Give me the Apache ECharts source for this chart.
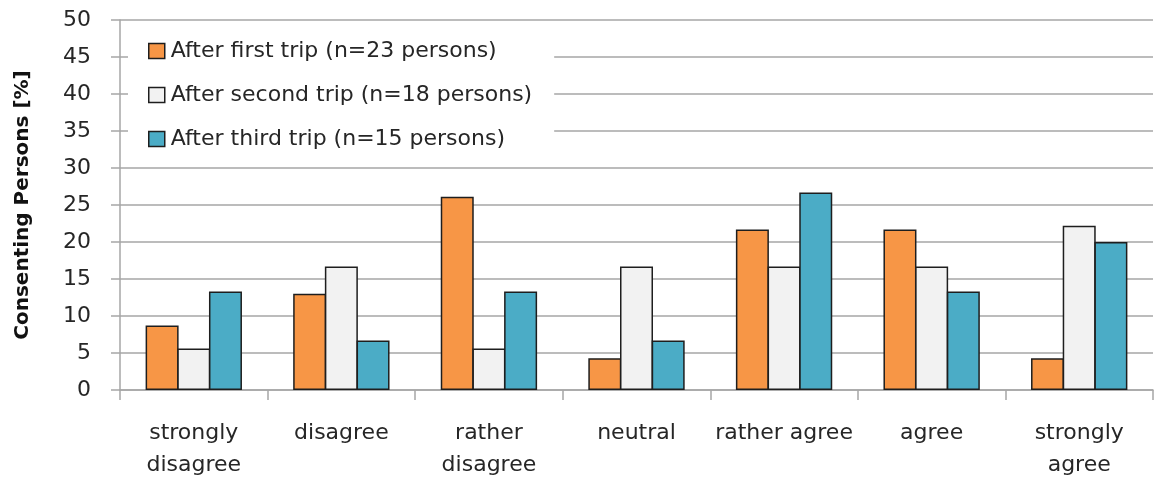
<!DOCTYPE html>
<html>
<head>
<meta charset="utf-8">
<title>Consenting Persons</title>
<script src="https://cdn.jsdelivr.net/npm/echarts@6/dist/echarts.min.js"></script>
<style>
  html, body { margin: 0; padding: 0; background: #ffffff; overflow: hidden; }
  #chart { width: 1154px; height: 481px; }
</style>
</head>
<body>
<div id="chart"></div>
<script>
// Answer categories on the x axis
const categories = [
  'strongly\ndisagree', 'disagree', 'rather\ndisagree', 'neutral',
  'rather agree', 'agree', 'strongly\nagree'
];

// Share of consenting persons in percent, per survey round
const firstTrip  = [8.7, 13.0, 26.1, 4.3, 21.7, 21.7, 4.3];
const secondTrip = [5.6, 16.7, 5.6, 16.7, 16.7, 16.7, 22.2];
const thirdTrip  = [13.3, 6.7, 13.3, 6.7, 26.7, 13.3, 20.0];

const seriesNames = [
  'After first trip (n=23 persons)',
  'After second trip (n=18 persons)',
  'After third trip (n=15 persons)'
];
const seriesColors = ['#F79646', '#F2F2F2', '#4BACC6'];

const yTicks = { min: 0, max: 50, interval: 5 };

const font = '"DejaVu Sans", "Open Sans", sans-serif';
const gridColor = '#a6a6a6';
const outline = '#1e1e1e';
const textColor = '#262626';

const chart = echarts.init(document.getElementById('chart'), null, { renderer: 'canvas' });

const dataSets = [firstTrip, secondTrip, thirdTrip];

chart.setOption({
  animation: false,
  backgroundColor: '#ffffff',
  textStyle: { fontFamily: font },
  grid: { left: 120, right: 1, top: 20, bottom: 86, containLabel: false },
  legend: {
    orient: 'vertical',
    left: 128,
    top: 25,
    padding: [15, 22, 12, 20],
    itemGap: 22,
    itemWidth: 16,
    itemHeight: 15,
    icon: 'rect',
    backgroundColor: '#ffffff',
    z: 10,
    textStyle: { fontFamily: font, fontSize: 22, color: textColor, padding: [0, 0, 0, 1] },
    itemStyle: { borderColor: outline, borderWidth: 1.5 },
    data: seriesNames
  },
  xAxis: {
    type: 'category',
    data: categories,
    axisLine: { show: true, lineStyle: { color: gridColor, width: 1.5 } },
    axisTick: { show: true, length: 10, lineStyle: { color: gridColor, width: 1.5 } },
    axisLabel: {
      fontFamily: font, fontSize: 22, color: textColor,
      margin: 27, lineHeight: 32, interval: 0
    },
    splitLine: { show: false }
  },
  yAxis: {
    type: 'value',
    min: yTicks.min,
    max: yTicks.max,
    interval: yTicks.interval,
    name: 'Consenting Persons [%]',
    nameLocation: 'middle',
    nameGap: 87,
    nameTextStyle: { fontFamily: font, fontSize: 20, fontWeight: 'bold', color: '#111111' },
    axisLine: { show: true, lineStyle: { color: gridColor, width: 1.5 } },
    axisTick: { show: true, length: 9, lineStyle: { color: gridColor, width: 1.5 } },
    axisLabel: { fontFamily: font, fontSize: 22, color: textColor, margin: 29 },
    splitLine: { show: true, lineStyle: { color: gridColor, width: 1.5 } }
  },
  series: dataSets.map((values, i) => ({
    name: seriesNames[i],
    type: 'bar',
    data: values,
    barWidth: 33,
    barGap: '-4%',
    itemStyle: { color: seriesColors[i], borderColor: outline, borderWidth: 1.5 }
  }))
});
</script>
</body>
</html>
